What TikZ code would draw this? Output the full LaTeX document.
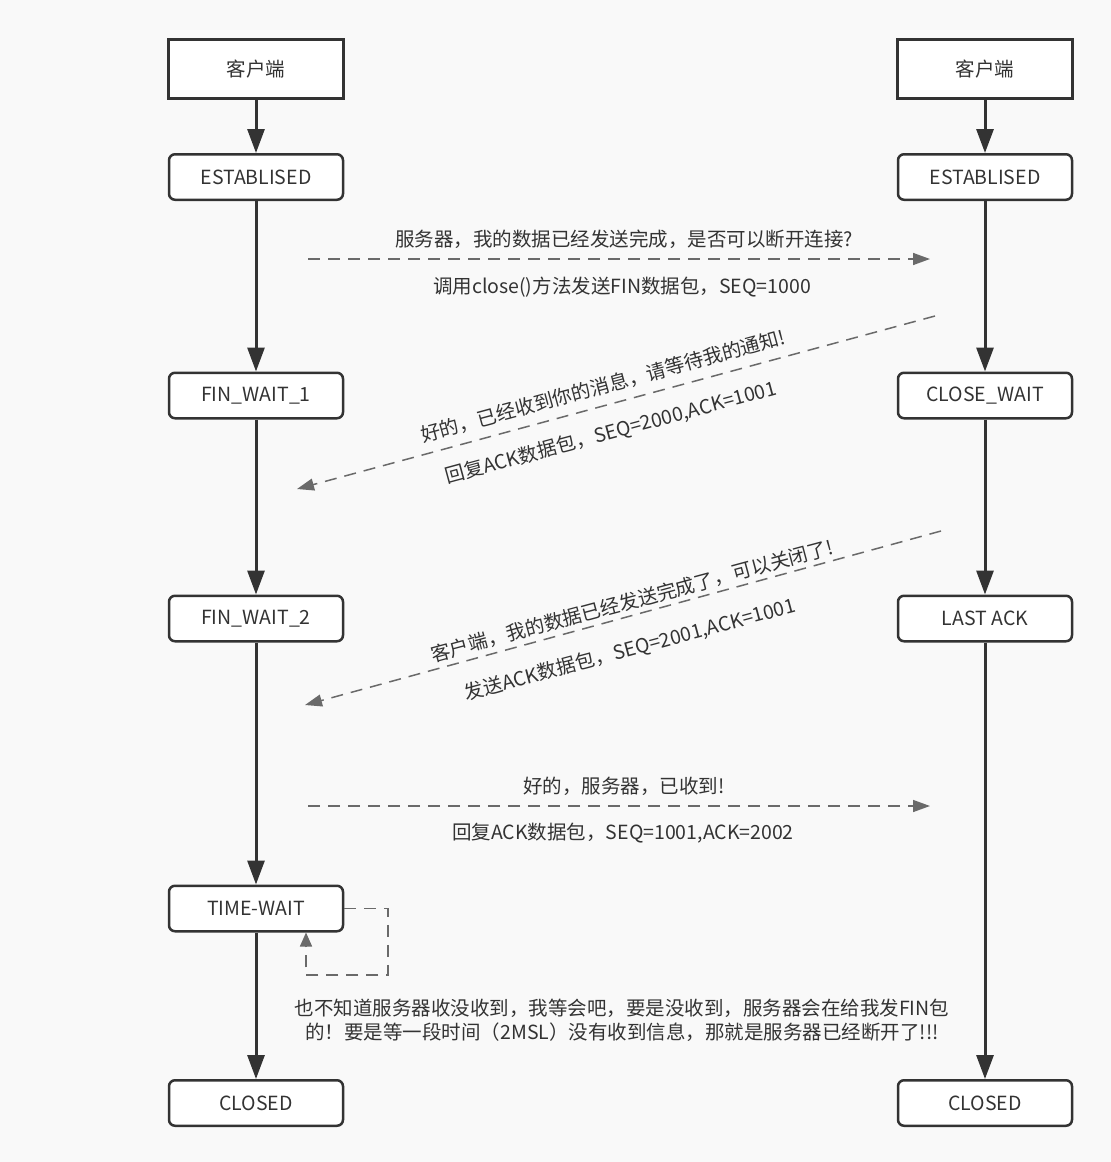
\documentclass[tikz,border=0pt]{standalone}
\usepackage{fontspec}
\setmainfont{Noto Sans CJK SC}
\usetikzlibrary{arrows.meta,calc}
\definecolor{dark}{HTML}{333333}
\definecolor{dgray}{HTML}{6A6A6A}
\definecolor{bg}{HTML}{F9F9F9}
\begin{document}
\begin{tikzpicture}[x=1pt,y=-1pt,
  font=\fontsize{19.5}{24}\selectfont, text=dark,
  topbox/.style={draw=dark, line width=3pt, fill=white, minimum width=175pt, minimum height=59pt, inner sep=0pt},
  statebox/.style={draw=dark, line width=2.5pt, fill=white, rounded corners=6pt, minimum width=174pt, minimum height=45.5pt, inner sep=0pt},
  flow/.style={draw=dark, line width=3pt, -{Triangle[length=24pt,width=17pt]}},
  msg/.style={draw=dgray, line width=1.5pt, dash pattern=on 12pt off 8pt, -{Triangle[length=17pt,width=12pt]}},
  lbl/.style={inner sep=0pt, anchor=center}]
\fill[bg] (0,0) rectangle (1111,1162);
\useasboundingbox (0,0) rectangle (1111,1162);

% nodes
\node[topbox] (c1) at (256,69) {\raisebox{-2pt}{客户端}};
\node[topbox] (c2) at (985,69) {\raisebox{-2pt}{客户端}};
\node[statebox] (e1) at (256,177) {\raisebox{-2pt}{ESTABLISED}};
\node[statebox] (e2) at (985,177) {\raisebox{-2pt}{ESTABLISED}};
\node[statebox] (f1) at (256,395.5) {\raisebox{-2pt}{FIN\_WAIT\_1}};
\node[statebox] (cw) at (985,395.5) {\raisebox{-2pt}{CLOSE\_WAIT}};
\node[statebox] (f2) at (256,618.5) {\raisebox{-2pt}{FIN\_WAIT\_2}};
\node[statebox] (la) at (985,618.5) {\raisebox{-2pt}{LAST ACK}};
\node[statebox] (tw) at (256,908.5) {\raisebox{-2pt}{TIME-WAIT}};
\node[statebox] (cl1) at (256,1103) {\raisebox{-2pt}{CLOSED}};
\node[statebox] (cl2) at (985,1103) {\raisebox{-2pt}{CLOSED}};

% vertical flows
\draw[flow] (c1) -- (e1);
\draw[flow] (e1) -- (f1);
\draw[flow] (f1) -- (f2);
\draw[flow] (f2) -- (tw);
\draw[flow] (tw) -- (cl1);
\draw[flow] (c2) -- (e2);
\draw[flow] (e2) -- (cw);
\draw[flow] (cw) -- (la);
\draw[flow] (la) -- (cl2);

% messages
\coordinate (m1s) at (308,259);
\coordinate (m1e) at (930,259);
\coordinate (m2s) at (935,316);
\coordinate (m2e) at (297,489);
\coordinate (m3s) at (941,531);
\coordinate (m3e) at (305,705);
\coordinate (m4s) at (308,806);
\coordinate (m4e) at (930,806);
\draw[msg] (m1s) -- (m1e);
\draw[msg] (m2s) -- (m2e);
\draw[msg] (m3s) -- (m3e);
\draw[msg] (m4s) -- (m4e);

% labels
\node[lbl] (t1a) at (624,239) {服务器，我的数据已经发送完成，是否可以断开连接?};
\node[lbl] (t1b) at (622,287) {调用close()方法发送FIN数据包，SEQ=1000};
\node[lbl,rotate=15.2] (t2a) at (603,386) {好的，已经收到你的消息，请等待我的通知!};
\node[lbl,rotate=15.2] (t2b) at (611,433) {回复ACK数据包，SEQ=2000,ACK=1001};
\node[lbl,rotate=15.1] (t3a) at (632,601) {客户端，我的数据已经发送完成了，可以关闭了!};
\node[lbl,rotate=15.1] (t3b) at (630,650) {发送ACK数据包，SEQ=2001,ACK=1001};
\node[lbl] (t4a) at (624,786) {好的，服务器，已收到!};
\node[lbl] (t4b) at (623,833) {回复ACK数据包，SEQ=1001,ACK=2002};

% time-wait loop
\draw[msg, -{Triangle[length=14pt,width=12pt]}] (tw.east) -| (388,975) -| ($(tw.south)+(50,0)$);

% note
\node[lbl, align=center] (note) at (622,1020) {也不知道服务器收没收到，我等会吧，要是没收到，服务器会在给我发FIN包\\的！要是等一段时间（2MSL）没有收到信息，那就是服务器已经断开了!!!};
\end{tikzpicture}
\end{document}
